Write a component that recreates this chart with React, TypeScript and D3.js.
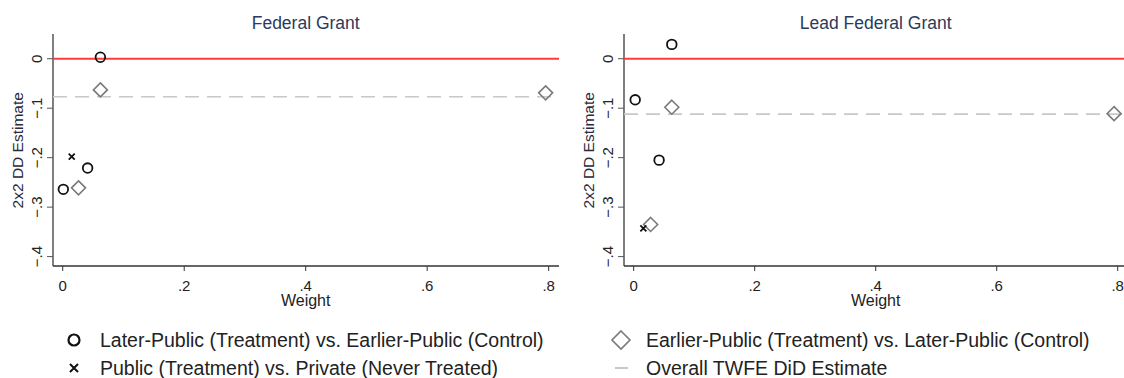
import React from "react";
import * as d3 from "d3";

// weight / estimate pairs
const panelTitles = ["Federal Grant", "Lead Federal Grant"];
const twfeEstimates = [-0.077, -0.112];

const laterVsEarlierW = [[0.062, 0.041, 0.001], [0.063, 0.0025, 0.042]];
const laterVsEarlierB = [[0.003, -0.221, -0.264], [0.029, -0.083, -0.205]];

const earlierVsLaterW = [[0.062, 0.795, 0.026], [0.063, 0.794, 0.028]];
const earlierVsLaterB = [[-0.063, -0.069, -0.261], [-0.098, -0.111, -0.335]];

const publicVsPrivateW = [[0.0148], [0.016]];
const publicVsPrivateB = [[-0.198], [-0.343]];

const xTicks = [0, 0.2, 0.4, 0.6, 0.8];
const yTicks = [0, -0.1, -0.2, -0.3, -0.4];

const legendLabels = [
  "Later-Public (Treatment) vs. Earlier-Public (Control)",
  "Earlier-Public (Treatment) vs. Later-Public (Control)",
  "Public (Treatment) vs. Private (Never Treated)",
  "Overall TWFE DiD Estimate",
];

const FONT = "'Liberation Sans', Arial, sans-serif";
const fmt = (v: number) => (v === 0 ? "0" : d3.format(".1f")(v).replace("0.", "."));

const Diamond = ({ x, y, r, color, sw }: any) => (
  <path
    d={`M${x},${y - r}L${x + r},${y}L${x},${y + r}L${x - r},${y}Z`}
    fill="none"
    stroke={color}
    strokeWidth={sw}
  />
);

const Cross = ({ x, y, r, sw }: any) => (
  <path
    d={`M${x - r},${y - r}L${x + r},${y + r}M${x - r},${y + r}L${x + r},${y - r}`}
    stroke="#111"
    strokeWidth={sw}
  />
);

const Panel = ({ i, left, width }: { i: number; left: number; width: number }) => {
  const top = 34;
  const bottom = 266;
  const right = left + width;
  const x = d3.scaleLinear().domain([-0.016, 0.817]).range([left, right]);
  const y = d3.scaleLinear().domain([0.05, -0.419]).range([top, bottom]);

  return (
    <g fontFamily={FONT}>
      <text x={x(0.4)} y={29} textAnchor="middle" fontSize={17.5} fill="#2b3a5c">
        {panelTitles[i]}
      </text>
      {/* axes */}
      <line x1={left} x2={left} y1={top} y2={bottom} stroke="#555" strokeWidth={1.5} />
      <line x1={left} x2={right} y1={bottom} y2={bottom} stroke="#333" strokeWidth={1.5} />
      {yTicks.map((t) => (
        <g key={t}>
          <line x1={left - 6} x2={left} y1={y(t)} y2={y(t)} stroke="#555" />
          <text
            transform={`translate(${left - 11},${y(t)}) rotate(-90)`}
            textAnchor="middle"
            fontSize={15}
            fill="#222"
          >
            {fmt(t)}
          </text>
        </g>
      ))}
      {xTicks.map((t) => (
        <g key={t}>
          <line x1={x(t)} x2={x(t)} y1={bottom} y2={bottom + 5} stroke="#333" />
          <text x={x(t)} y={bottom + 25} textAnchor="middle" fontSize={15} fill="#222">
            {fmt(t)}
          </text>
        </g>
      ))}
      <text x={x(0.4)} y={306} textAnchor="middle" fontSize={16} fill="#222">
        Weight
      </text>
      <text
        transform={`translate(${left - 30},${y(-0.185)}) rotate(-90)`}
        textAnchor="middle"
        fontSize={15.5}
        fill="#2a2a3a"
      >
        2x2 DD Estimate
      </text>
      {/* reference lines */}
      <line x1={left} x2={right} y1={y(0)} y2={y(0)} stroke="#ff3b3b" strokeWidth={2} />
      <line
        x1={left}
        x2={right}
        y1={y(twfeEstimates[i])}
        y2={y(twfeEstimates[i])}
        stroke="#c8c8c8"
        strokeWidth={1.6}
        strokeDasharray="14,8"
      />
      {/* markers */}
      {earlierVsLaterW[i].map((w, j) => (
        <Diamond key={"d" + j} x={x(w)} y={y(earlierVsLaterB[i][j])} r={7} color="#7a7a7a" sw={1.6} />
      ))}
      {laterVsEarlierW[i].map((w, j) => (
        <circle
          key={"c" + j}
          cx={x(w)}
          cy={y(laterVsEarlierB[i][j])}
          r={4.8}
          fill="none"
          stroke="#111"
          strokeWidth={1.8}
        />
      ))}
      {publicVsPrivateW[i].map((w, j) => (
        <Cross key={"x" + j} x={x(w)} y={y(publicVsPrivateB[i][j])} r={3} sw={1.8} />
      ))}
    </g>
  );
};

export default function App() {
  return (
    <svg width={1124} height={378} style={{ position: "absolute", left: 0, top: 0, background: "#fff" }}>
      <rect width={1124} height={378} fill="#fff" />
      <Panel i={0} left={53} width={506} />
      <Panel i={1} left={624} width={504} />
      <g fontFamily={FONT} fontSize={19.5} fill="#222">
        <circle cx={74} cy={340} r={5.5} fill="none" stroke="#111" strokeWidth={2.2} />
        <text x={100} y={347}>{legendLabels[0]}</text>
        <Diamond x={621} y={340} r={9} color="#7a7a7a" sw={1.6} />
        <text x={646} y={347}>{legendLabels[1]}</text>
        <Cross x={74} y={368} r={4} sw={2} />
        <text x={100} y={375}>{legendLabels[2]}</text>
        <line x1={615} x2={628} y1={368} y2={368} stroke="#c8c8c8" strokeWidth={2} />
        <text x={646} y={375}>{legendLabels[3]}</text>
      </g>
    </svg>
  );
}
